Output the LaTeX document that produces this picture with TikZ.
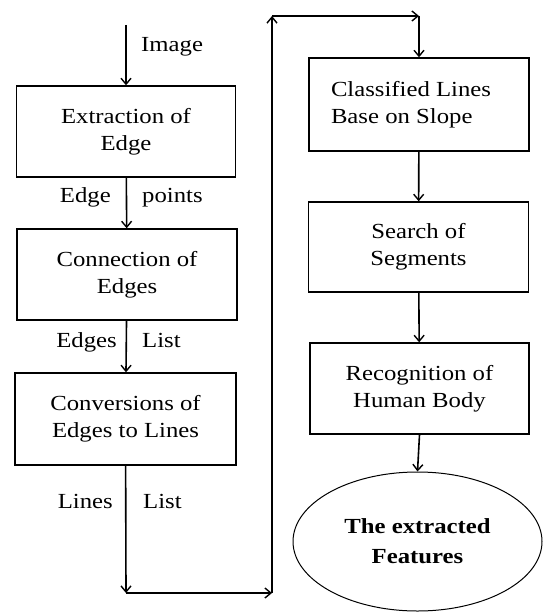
\documentclass[tikz,border=0pt]{standalone}
\usepackage{fontspec}
\setmainfont{Liberation Serif}[FakeStretch=1.15]
\usetikzlibrary{arrows.meta,shapes.geometric}
\begin{document}
\begin{tikzpicture}[x=1pt,y=-1pt,
  box/.style={draw,line width=1.4pt,minimum width=219pt,minimum height=91pt,inner sep=0pt,align=center,font=\fontsize{21.5}{27}\selectfont},
  arr/.style={line width=1.6pt,-{Straight Barb[length=6pt,width=10pt,line width=1.4pt]}},
  lbl/.style={inner sep=0pt,font=\fontsize{21.5}{27}\selectfont}]
\useasboundingbox[fill=white] (0,0) rectangle (543,612);
\node[box] (b1) at (126,131.5) {Extraction of\\Edge};
\node[box,minimum width=220pt] (b2) at (127,274.5) {Connection of\\Edges};
\node[box,minimum width=221pt,minimum height=92pt] (b3) at (125.5,419) {Conversions of\\Edges to Lines};
\node[box,minimum width=220pt,minimum height=93pt,align=left] (b4) at (419,104.5) {Classified Lines\hspace*{16pt}\\Base on Slope};
\node[box,minimum width=220pt,minimum height=90pt] (b5) at (418.5,247) {Search of\\Segments};
\node[box] (b6) at (419.5,388.5) {Recognition of\\Human Body};
\node[draw,ellipse,line width=1pt,minimum width=249pt,minimum height=139pt,inner sep=0pt,align=center,font=\fontsize{21.5}{30}\selectfont\bfseries] (e) at (417.5,541.5) {The extracted\\Features};
\coordinate (s) at (126,25);
\coordinate (c1) at (126,593);
\coordinate (c2) at (272,593);
\coordinate (c3) at (272,16);
\coordinate (c4) at (419,16);
\draw[arr] (s) -- (b1);
\draw[arr] (b1) -- (b2);
\draw[arr] (b2) -- (b3);
\draw[arr] (b3) -- (c1);
\draw[arr] (c1) -- (c2);
\draw[arr] (c2) -- (c3);
\draw[arr] (c3) -- (c4);
\draw[arr] (c4) -- (b4);
\draw[arr] (b4) -- (b5);
\draw[arr] (b5) -- (b6);
\draw[arr] (b6.south) -- (e.north);
\node[lbl,anchor=base west] (t1) at (141,52) {Image};
\node[lbl,anchor=base east] (t2) at (111,203) {Edge};
\node[lbl,anchor=base west] (t3) at (142,203) {points};
\node[lbl,anchor=base east] (t4) at (117,347) {Edges};
\node[lbl,anchor=base west] (t5) at (142,347) {List};
\node[lbl,anchor=base east] (t6) at (113,508) {Lines};
\node[lbl,anchor=base west] (t7) at (143,508) {List};
\end{tikzpicture}
\end{document}
